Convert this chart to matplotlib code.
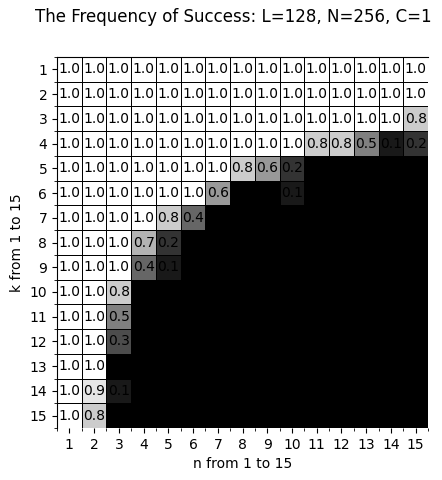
import numpy as np
import matplotlib
matplotlib.use("Agg")
import matplotlib.pyplot as plt

# success frequency, rows k = 1..15, columns n = 1..15
n_vals = list(range(1, 16))
k_vals = list(range(1, 16))
freq = np.array([
    [1.0, 1.0, 1.0, 1.0, 1.0, 1.0, 1.0, 1.0, 1.0, 1.0, 1.0, 1.0, 1.0, 1.0, 1.0],
    [1.0, 1.0, 1.0, 1.0, 1.0, 1.0, 1.0, 1.0, 1.0, 1.0, 1.0, 1.0, 1.0, 1.0, 1.0],
    [1.0, 1.0, 1.0, 1.0, 1.0, 1.0, 1.0, 1.0, 1.0, 1.0, 1.0, 1.0, 1.0, 1.0, 0.8],
    [1.0, 1.0, 1.0, 1.0, 1.0, 1.0, 1.0, 1.0, 1.0, 1.0, 0.8, 0.8, 0.5, 0.1, 0.2],
    [1.0, 1.0, 1.0, 1.0, 1.0, 1.0, 1.0, 0.8, 0.6, 0.2, 0.0, 0.0, 0.0, 0.0, 0.0],
    [1.0, 1.0, 1.0, 1.0, 1.0, 1.0, 0.6, 0.0, 0.0, 0.1, 0.0, 0.0, 0.0, 0.0, 0.0],
    [1.0, 1.0, 1.0, 1.0, 0.8, 0.4, 0.0, 0.0, 0.0, 0.0, 0.0, 0.0, 0.0, 0.0, 0.0],
    [1.0, 1.0, 1.0, 0.7, 0.2, 0.0, 0.0, 0.0, 0.0, 0.0, 0.0, 0.0, 0.0, 0.0, 0.0],
    [1.0, 1.0, 1.0, 0.4, 0.1, 0.0, 0.0, 0.0, 0.0, 0.0, 0.0, 0.0, 0.0, 0.0, 0.0],
    [1.0, 1.0, 0.8, 0.0, 0.0, 0.0, 0.0, 0.0, 0.0, 0.0, 0.0, 0.0, 0.0, 0.0, 0.0],
    [1.0, 1.0, 0.5, 0.0, 0.0, 0.0, 0.0, 0.0, 0.0, 0.0, 0.0, 0.0, 0.0, 0.0, 0.0],
    [1.0, 1.0, 0.3, 0.0, 0.0, 0.0, 0.0, 0.0, 0.0, 0.0, 0.0, 0.0, 0.0, 0.0, 0.0],
    [1.0, 1.0, 0.0, 0.0, 0.0, 0.0, 0.0, 0.0, 0.0, 0.0, 0.0, 0.0, 0.0, 0.0, 0.0],
    [1.0, 0.9, 0.1, 0.0, 0.0, 0.0, 0.0, 0.0, 0.0, 0.0, 0.0, 0.0, 0.0, 0.0, 0.0],
    [1.0, 0.8, 0.0, 0.0, 0.0, 0.0, 0.0, 0.0, 0.0, 0.0, 0.0, 0.0, 0.0, 0.0, 0.0],
])

fig = plt.figure(figsize=(4.42, 4.8), dpi=100)
ax = fig.add_axes([57 / 442, 52 / 480, 371 / 442, 371 / 480])

edges = np.arange(0.5, 16.5, 1)
ax.pcolormesh(edges, edges, freq, cmap='gray', vmin=0, vmax=1,
              edgecolors='black', linewidth=0.7)

for i, k in enumerate(k_vals):
    for j, n in enumerate(n_vals):
        if freq[i, j] > 0:
            ax.text(n, k, f"{freq[i, j]:.1f}", ha='center', va='center',
                    fontsize=10, color='black')

ax.set_xlim(0.5, 15.5)
ax.set_ylim(15.5, 0.5)
ax.set_xticks(n_vals)
ax.set_yticks(k_vals)
ax.set_xticks(edges, minor=True)
ax.set_yticks(edges, minor=True)
ax.tick_params(which='minor', length=2)
ax.set_xlabel('n from 1 to 15')
ax.set_ylabel('k from 1 to 15')
for s in ['right', 'bottom']:
    ax.spines[s].set_visible(False)

fig.text(233 / 442, 1 - 17 / 480, 'The Frequency of Success: L=128, N=256, C=1',
         ha='center', va='center', fontsize=12)

fig.savefig('out.png', dpi=100)
